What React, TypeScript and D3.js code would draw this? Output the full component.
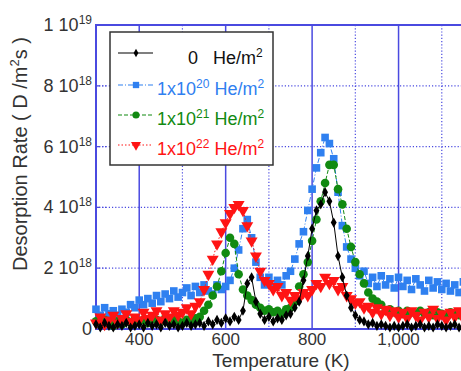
import React from 'react';
import * as d3 from 'd3';

// temperature (K), one reading every 10 K
const temps = [
  300, 310, 320, 330, 340, 350, 360, 370, 380, 390,
  400, 410, 420, 430, 440, 450, 460, 470, 480, 490,
  500, 510, 520, 530, 540, 550, 560, 570, 580, 590,
  600, 610, 620, 630, 640, 650, 660, 670, 680, 690,
  700, 710, 720, 730, 740, 750, 760, 770, 780, 790,
  800, 810, 820, 830, 840, 850, 860, 870, 880, 890,
  900, 910, 920, 930, 940, 950, 960, 970, 980, 990,
  1000, 1010, 1020, 1030, 1040, 1050, 1060, 1070, 1080, 1090,
  1100, 1110, 1120, 1130, 1140, 1150, 1160, 1170, 1180, 1190, 1200,
];

// desorption rate, units of 1e18 D/m2s
const rate0 = [
  0.15, 0.05, 0.2, 0.1, 0.05, 0.15, 0.1, 0.2, 0.05, 0.1,
  0.15, 0.05, 0.2, 0.1, 0.15, 0.05, 0.2, 0.1, 0.15, 0.05,
  0.1, 0.2, 0.1, 0.15, 0.2, 0.1, 0.25, 0.15, 0.3, 0.2,
  0.35, 0.25, 0.4, 0.3, 0.6, 1.5, 1.7, 0.9, 0.5, 0.3,
  0.4, 0.25, 0.35, 0.3, 0.45, 0.5, 0.7, 0.9, 1.6, 2.4,
  3.3, 3.9, 4.1, 4.5, 4.2, 3.5, 2.4, 1.7, 1.1, 0.7,
  0.45, 0.3, 0.25, 0.15, 0.2, 0.1, 0.15, 0.1, 0.05, 0.1,
  0.05, 0.1, 0.15, 0.05, 0.1, 0.15, 0.05, 0.1, 0.05, 0.15,
  0.1, 0.05, 0.1, 0.15, 0.05, 0.1, 0.05, 0.1, 0.15, 0.05, 0.1,
];

const rate20 = [
  0.65, 0.45, 0.7, 0.5, 0.6, 0.45, 0.65, 0.55, 0.8, 0.7,
  0.95, 0.8, 1.0, 0.85, 1.1, 0.9, 1.15, 1.0, 1.25, 1.05,
  1.2, 1.35, 1.1, 1.4, 1.2, 1.45, 1.25, 1.15, 1.45, 1.3,
  1.4, 1.6, 2.0, 2.6, 3.3, 3.6, 3.0, 2.2, 1.7, 1.45,
  1.7, 1.4, 1.6, 1.45, 1.75, 1.9, 2.3, 2.8, 3.2, 3.9,
  4.6, 5.3, 5.8, 6.3, 6.1, 5.6, 4.5, 3.4, 2.7, 2.3,
  2.0, 1.75, 1.9, 1.5, 1.7, 1.4, 1.75, 1.45, 1.65, 1.35,
  1.7, 1.4, 1.6, 1.3, 1.65, 1.45, 1.25, 1.6, 1.35, 1.55,
  1.3, 1.5, 1.25, 1.45, 1.2, 1.55, 1.3, 1.4, 1.2, 1.45, 1.3,
];

const rate21 = [
  0.25, 0.15, 0.3, 0.2, 0.1, 0.25, 0.15, 0.3, 0.2, 0.35,
  0.25, 0.3, 0.2, 0.35, 0.3, 0.25, 0.35, 0.2, 0.3, 0.25,
  0.2, 0.3, 0.25, 0.35, 0.4, 0.6, 0.8, 1.1, 1.4, 1.9,
  2.5, 3.0, 2.8, 1.8, 1.3, 1.1, 0.95, 0.8, 0.7, 0.6,
  0.65, 0.55, 0.6, 0.5, 0.65, 0.7, 0.9, 1.4, 1.8, 2.2,
  2.9, 3.6, 4.2, 4.8, 5.4, 5.4, 4.6, 4.1, 3.3, 2.7,
  2.2, 1.8, 1.5, 1.2, 1.0, 0.9, 0.8, 0.6, 0.65, 0.55,
  0.6, 0.5, 0.6, 0.55, 0.5, 0.6, 0.5, 0.55, 0.45, 0.55,
  0.5, 0.45, 0.55, 0.5, 0.45, 0.5, 0.4, 0.5, 0.45, 0.4, 0.45,
];

const rate22 = [
  0.2, 0.4, 0.15, 0.3, 0.45, 0.2, 0.35, 0.5, 0.25, 0.4,
  0.3, 0.55, 0.35, 0.45, 0.6, 0.3, 0.5, 0.4, 0.6, 0.45,
  0.55, 0.7, 0.5, 0.75, 0.9, 1.3, 1.8, 2.3, 2.8, 3.2,
  3.5, 3.8, 4.0, 4.1, 3.9, 3.4, 2.9, 2.4, 1.9, 1.6,
  1.5, 1.3, 1.4, 1.1, 1.2, 0.95, 1.1, 1.0, 1.2, 1.1,
  1.3, 1.5, 1.4, 1.7, 1.5, 1.6, 1.3, 1.4, 1.1, 1.0,
  0.85, 0.9, 0.7, 0.75, 0.55, 0.7, 0.5, 0.65, 0.45, 0.6,
  0.4, 0.55, 0.35, 0.6, 0.45, 0.3, 0.55, 0.4, 0.65, 0.35,
  0.5, 0.3, 0.55, 0.4, 0.6, 0.35, 0.5, 0.3, 0.45, 0.55, 0.35,
];

const majorX = [400, 600, 800, 1000];
const majorXLabels = ['400', '600', '800', '1,000'];
const minorX = [500, 700, 900, 1100];
const yTicks = [0, 2, 4, 6, 8, 10];
const yTickBase = ['0', '2 10', '4 10', '6 10', '8 10', '1 10'];
const yTickExp = ['', '18', '18', '18', '18', '19'];

const legendBase = ['0', '1x10', '1x10', '1x10'];
const legendExp = ['', '20', '21', '22'];

const FONT = "'Liberation Sans', Arial, sans-serif";
const GRID = '#4a4ae0';
const TEXT = '#333';

const series = [
  { key: 'he20', values: rate20, color: '#2f80f0', symbol: d3.symbolSquare, size: 58, rot: 0, dash: '5,2,1,2' },
  { key: 'he21', values: rate21, color: '#118a11', symbol: d3.symbolCircle, size: 58, rot: 0, dash: '4,2' },
  { key: 'he22', values: rate22, color: '#ff1414', symbol: d3.symbolTriangle, size: 62, rot: 180, dash: '1.5,2' },
  { key: 'he0', values: rate0, color: '#000', symbol: d3.symbolDiamond, size: 30, rot: 0, dash: null },
];
// legend order differs from drawing order
const legendOrder = ['he0', 'he20', 'he21', 'he22'];
const legendSize = [20, 40, 40, 44];

export default function App() {
  const width = 461;
  const height = 371;
  const x = d3.scaleLinear().domain([300, 1200]).range([96, 485]);
  const y = d3.scaleLinear().domain([0, 10]).range([329, 25]);
  const line = d3.line<number>().x((_, i) => x(temps[i])).y(d => y(d));

  return (
    <svg width={width} height={height} style={{ position: 'absolute', left: 0, top: 0, background: '#fff' }}
      fontFamily={FONT}>
      {/* grid */}
      {minorX.map(v => (
        <line key={'mx' + v} x1={x(v)} x2={x(v)} y1={y(10)} y2={y(0)} stroke={GRID} strokeWidth={1.2} strokeDasharray="1.2,2" />
      ))}
      {yTicks.slice(1, -1).map(v => (
        <line key={'gy' + v} x1={x(300)} x2={x(1200)} y1={y(v)} y2={y(v)} stroke={GRID} strokeWidth={1.2} strokeDasharray="1.2,2" />
      ))}
      {yTicks.slice(1, -1).map(v => (
        <line key={'ty' + v} x1={x(300)} x2={x(300) + 10} y1={y(v)} y2={y(v)} stroke={GRID} strokeWidth={1.2} strokeDasharray="4,2,1,2" />
      ))}
      {majorX.map(v => (
        <line key={'Mx' + v} x1={x(v)} x2={x(v)} y1={y(10)} y2={y(0)} stroke={GRID} strokeWidth={1.5} />
      ))}
      {/* frame */}
      <path d={`M${x(1200)},${y(10)}H${x(300)}V${y(0)}H${x(1200)}`} fill="none" stroke={GRID} strokeWidth={2} />

      {/* series */}
      {series.map(s => (
        <g key={s.key}>
          <path d={line(s.values) || ''} fill="none" stroke={s.color} strokeWidth={1} strokeDasharray={s.dash || undefined} />
          {s.values.map((v, i) => (
            <path key={i} d={d3.symbol(s.symbol, s.size)() || ''}
              transform={`translate(${x(temps[i])},${y(v)}) rotate(${s.rot})`} fill={s.color} />
          ))}
        </g>
      ))}

      {/* legend */}
      <rect x={110} y={32} width={163} height={133} fill="#fff" stroke="#333" strokeWidth={1.5} />
      {legendOrder.map((k, i) => {
        const s = series.find(d => d.key === k)!;
        const ly = i === 0 ? 53 : 85 + (i - 1) * 30;
        const base = i === 0 ? 64 : 95 + (i - 1) * 30;
        return (
          <g key={'lg' + k}>
            <line x1={118} x2={153} y1={ly} y2={ly} stroke={s.color} strokeWidth={1.2} strokeDasharray={s.dash || undefined} />
            <path d={d3.symbol(s.symbol, legendSize[i])() || ''}
              transform={`translate(136,${ly}) rotate(${s.rot})`} fill={s.color} />
            {i === 0 ? (
              <>
                <text x={188} y={base} fontSize={18} fill="#111">{legendBase[i]}</text>
                <text x={213} y={base} fontSize={18} fill="#111">He/m<tspan dy={-7} fontSize={12}>2</tspan></text>
              </>
            ) : (
              <text x={157} y={base} fontSize={18} fill={s.color}>
                {legendBase[i]}<tspan dy={-7} fontSize={12}>{legendExp[i]}</tspan>
                <tspan dy={7}> He/m</tspan><tspan dy={-7} fontSize={12}>2</tspan>
              </text>
            )}
          </g>
        );
      })}

      {/* y tick labels */}
      {yTicks.map((v, i) => (
        <text key={'yl' + v} x={92} y={y(v) + 6} fontSize={18} fill={TEXT} textAnchor="end">
          {yTickBase[i]}
          {yTickExp[i] && <tspan dy={-7} fontSize={12}>{yTickExp[i]}</tspan>}
        </text>
      ))}
      {/* x tick labels */}
      {majorX.map((v, i) => (
        <text key={'xl' + v} x={x(v)} y={345} fontSize={17} fill={TEXT} textAnchor="middle">{majorXLabels[i]}</text>
      ))}

      {/* axis titles */}
      <text x={281} y={367} fontSize={19} fill={TEXT} textAnchor="middle">Temperature (K)</text>
      <text transform="translate(27,154) rotate(-90)" fontSize={20} fill={TEXT} textAnchor="middle">
        Desorption Rate ( D /m<tspan dy={-8} fontSize={13}>2</tspan><tspan dy={8}>s )</tspan>
      </text>
    </svg>
  );
}
